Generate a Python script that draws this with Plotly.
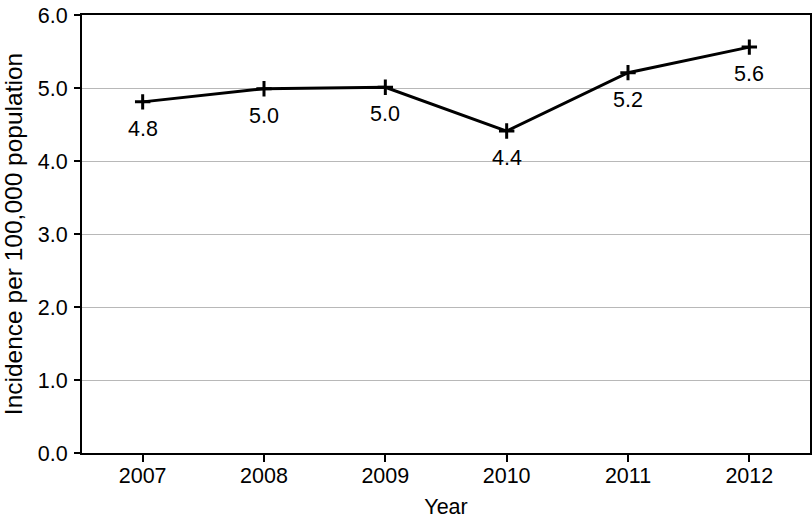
import plotly.graph_objects as go

years = ["2007", "2008", "2009", "2010", "2011", "2012"]
incidence = [4.81, 4.99, 5.01, 4.41, 5.21, 5.56]
labels = ["4.8", "5.0", "5.0", "4.4", "5.2", "5.6"]
y_ticks = [0, 1, 2, 3, 4, 5, 6]
y_tick_text = ["0.0", "1.0", "2.0", "3.0", "4.0", "5.0", "6.0"]

FONT = "Liberation Sans, Arial, sans-serif"
FS = 21.5

fig = go.Figure()
fig.add_trace(go.Scatter(
    x=years, y=incidence, mode="lines+markers",
    line=dict(color="black", width=3),
    marker=dict(symbol="cross-thin", size=11, line=dict(color="black", width=3)),
    showlegend=False, hoverinfo="skip",
))
for i, (yv, t) in enumerate(zip(incidence, labels)):
    fig.add_annotation(xref="x", yref="y", x=i, y=yv, text=t, showarrow=False,
                       yshift=-27, font=dict(size=FS, color="black", family=FONT))

fig.update_layout(
    width=812, height=520,
    margin=dict(l=82, r=2, t=15, b=67),
    paper_bgcolor="white", plot_bgcolor="white",
    font=dict(family=FONT, size=FS, color="black"),
)
fig.update_xaxes(
    type="category", range=[-0.5, 5.5], automargin=False,
    showline=True, linecolor="black", linewidth=2, mirror=True,
    ticks="outside", ticklen=7, tickwidth=1.5, tickcolor="black",
    ticklabelstandoff=-5,
    showgrid=False, tickfont=dict(size=FS),
    title=dict(text="Year", font=dict(size=FS), standoff=12),
)
fig.update_yaxes(
    range=[0, 6], tickvals=y_ticks, ticktext=y_tick_text, automargin=False,
    showline=True, linecolor="black", linewidth=2, mirror=True,
    ticks="outside", ticklen=6, tickwidth=1.5, tickcolor="black",
    ticklabelstandoff=2,
    showgrid=True, gridcolor="#b8b8b8", gridwidth=1.2,
    tickfont=dict(size=FS), zeroline=False,
    title=dict(text="Incidence per 100,000 population", font=dict(size=24.5), standoff=8),
)

fig.write_html(
    "out.html",
    config={"displayModeBar": False},
    post_script="document.body.style.margin='0';document.body.style.overflow='hidden';",
)
